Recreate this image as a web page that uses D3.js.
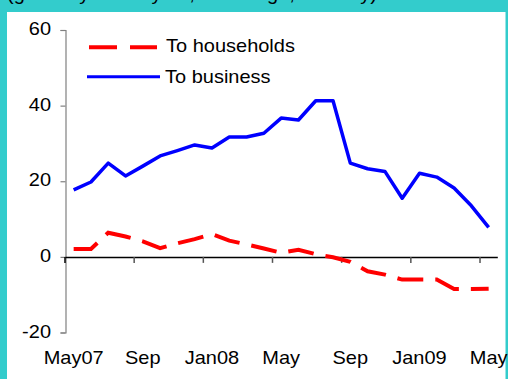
<!DOCTYPE html>
<html><head><meta charset="utf-8">
<script src="https://cdn.jsdelivr.net/npm/d3@7"></script>
<style>html,body{margin:0;padding:0;background:#33cccc;overflow:hidden}svg{display:block}</style>
</head><body>
<svg id="c" width="508" height="379"></svg>
<script>
const months = ["May07","Jun07","Jul07","Aug07","Sep07","Oct07","Nov07","Dec07","Jan08","Feb08","Mar08","Apr08","May08","Jun08","Jul08","Aug08","Sep08","Oct08","Nov08","Dec08","Jan09","Feb09","Mar09","Apr09","May09"];
const toBusiness = [17.7,19.8,24.8,21.4,24.0,26.7,28.1,29.6,28.8,31.7,31.7,32.7,36.7,36.2,41.3,41.3,24.8,23.3,22.6,15.5,22.1,21.1,18.2,13.5,7.8];
const toHouseholds = [2.1,2.1,6.4,5.4,4.1,2.3,3.6,4.7,6.0,4.3,3.3,2.2,1.1,1.9,0.7,-0.1,-1.3,-3.8,-4.7,-6.0,-6.0,-6.0,-8.5,-8.5,-8.4];
const yTicks = [-20,0,20,40,60];
const xTickMonths = ["May07","Sep07","Jan08","May08","Sep08","Jan09","May09"];
const xTickLabels = ["May07","Sep","Jan08","May","Sep","Jan09","May"];
const seriesNames = ["To households","To business"];
const headerText = "(growth year on year, % change, monthly)";

const svg = d3.select("#c");
const FONT = "'Liberation Sans', Arial, sans-serif";
const SX = 1.13, FS = 17.7;

// header (mostly cut off at the top edge, as in the reference)
svg.append("text").attr("transform","translate(7,-0.5) scale(1.13,1)")
  .attr("font-family",FONT).attr("font-size",FS).attr("fill","#000").text(headerText);

svg.append("rect").attr("x",7).attr("y",12).attr("width",498.5).attr("height",379-12).attr("fill","#fff");

const x = d3.scaleBand().domain(months).range([65,497.3]).padding(0);
const y = d3.scaleLinear().domain([-20,60]).range([332.5,30]);
const cx = m => x(m) + x.bandwidth()/2;

// y axis
const ya = svg.append("g").attr("transform","translate(65.5,0)")
  .call(d3.axisLeft(y).tickValues(yTicks).tickSize(5).tickFormat(d3.format("d")));
ya.select(".domain").attr("stroke","#808080").attr("stroke-width",1.2);
ya.selectAll(".tick line").attr("stroke","#808080").attr("stroke-width",1.2);
ya.selectAll(".tick text").remove();
yTicks.forEach(v=>{
  svg.append("text").attr("transform",`translate(51,${y(v)+5}) scale(${SX},1)`)
    .attr("text-anchor","end").attr("font-family",FONT).attr("font-size",FS).attr("fill","#000").text(v);
});

// zero line (x axis)
const xa = svg.append("g").attr("transform",`translate(0,${y(0)})`)
  .call(d3.axisBottom(x).tickValues([]).tickSizeOuter(0));
xa.select(".domain").attr("stroke","#000").attr("stroke-width",1.5);
xTickMonths.forEach(m=>{
  svg.append("line").attr("x1",x(m)).attr("x2",x(m)).attr("y1",y(0)).attr("y2",y(0)+6)
    .attr("stroke",m==="May07"?"#000":"#555").attr("stroke-width",1.5);
});
xTickMonths.forEach((m,i)=>{
  svg.append("text").attr("transform",`translate(${cx(m)},364) scale(${SX},1)`)
    .attr("text-anchor","middle").attr("font-family",FONT).attr("font-size",FS).attr("fill","#000").text(xTickLabels[i]);
});

const line = d3.line().x((d,i)=>cx(months[i])).y(d=>y(d));
svg.append("path").datum(toHouseholds).attr("d",line).attr("fill","none")
  .attr("stroke","#ff0000").attr("stroke-width",4).attr("stroke-dasharray","26,12");
svg.append("path").datum(toBusiness).attr("d",line).attr("fill","none")
  .attr("stroke","#0000ff").attr("stroke-width",3.5).attr("stroke-linejoin","round");

// legend
svg.append("line").attr("x1",89).attr("x2",157).attr("y1",47.3).attr("y2",47.3)
  .attr("stroke","#ff0000").attr("stroke-width",4).attr("stroke-dasharray","28,13");
svg.append("line").attr("x1",87).attr("x2",160).attr("y1",76.7).attr("y2",76.7)
  .attr("stroke","#0000ff").attr("stroke-width",3);
svg.append("text").attr("transform",`translate(166,52) scale(${SX},1)`)
  .attr("font-family",FONT).attr("font-size",FS).attr("fill","#000").text(seriesNames[0]);
svg.append("text").attr("transform",`translate(165,83) scale(${SX},1)`)
  .attr("font-family",FONT).attr("font-size",FS).attr("fill","#000").text(seriesNames[1]);
</script>
</body></html>
